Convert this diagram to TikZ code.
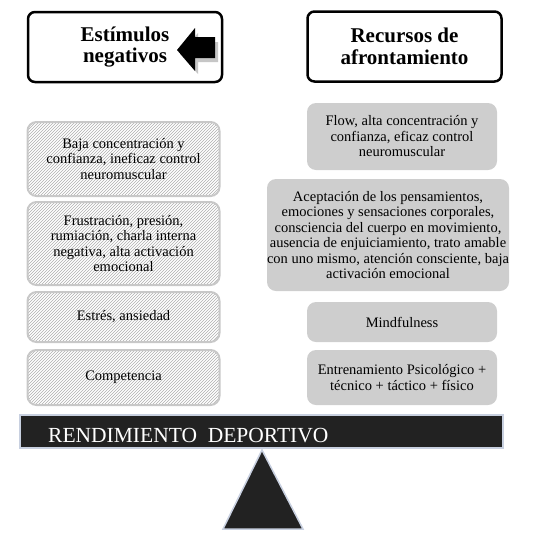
\documentclass[tikz,border=0pt]{standalone}
\usepackage{fontspec}
\setmainfont{Liberation Serif}
\usetikzlibrary{patterns,positioning}

\definecolor{boxgray}{RGB}{206,206,206}
\definecolor{hatchgray}{RGB}{175,175,175}
\definecolor{rimgray}{RGB}{200,200,200}
\definecolor{beamrim}{RGB}{200,208,224}
\definecolor{beamfill}{RGB}{34,34,34}
\newcommand{\bodyfont}{\fontsize{14.5}{15.5}\selectfont}

\tikzset{
  headbox/.style={draw, line width=2.5pt, rounded corners=7pt, fill=white,
    minimum width=194, minimum height=70, align=center,
    font=\fontsize{21}{21.5}\selectfont\bfseries},
  negbox/.style={draw=rimgray, line width=2pt, rounded corners=9pt,
    pattern=north east lines, pattern color=hatchgray,
    minimum width=192, align=center, font=\bodyfont},
  recbox/.style={fill=boxgray, rounded corners=9pt, align=center, font=\bodyfont},
}

\begin{document}
\begin{tikzpicture}[x=1pt,y=-1pt]
  \useasboundingbox (0,0) rectangle (545,536);

  % headers
  \node[headbox] (estimulos) at (125,47) {Estímulos\\negativos};
  \node[headbox] (recursos) at (404.5,46.5) {Recursos de\\afrontamiento};
  \fill[gray!45] (180,54) -- (198,33) -- (198,42) -- (218,42) -- (218,62) -- (198,62) -- (198,74) -- cycle;
  \fill[black] (177,50) -- (195,28) -- (195,37) -- (215,37) -- (215,58) -- (195,58) -- (195,71) -- cycle;

  % left column
  \node[negbox, minimum height=74] (baja) at (123.5,159) {Baja concentración y\\confianza, ineficaz control\\neuromuscular};
  \node[negbox, minimum height=83] (frustra) at (123.5,243.5) {Frustración, presión,\\rumiación, charla interna\\negativa, alta activación\\emocional};
  \node[negbox, minimum height=50] (estres) at (123.5,317) {Estrés, ansiedad};
  \node[negbox, minimum height=55] (compet) at (123.5,377.5) {Competencia};

  % right column
  \node[recbox, minimum width=190, minimum height=67] (flow) at (402,136.5) {Flow, alta concentración y\\confianza, eficaz control\\neuromuscular};
  \node[recbox, inner xsep=0pt, minimum width=240, minimum height=112] (acepta) at (388,235) {Aceptación de los pensamientos,\\emociones y sensaciones corporales,\\consciencia del cuerpo en movimiento,\\ausencia de enjuiciamiento, trato amable\\con uno mismo, atención consciente, baja\\activación emocional};
  \node[recbox, minimum width=190, minimum height=40] (mindful) at (402,322) {Mindfulness};
  \node[recbox, minimum width=190, minimum height=55] (entrena) at (402,377.5) {Entrenamiento Psicológico +\\técnico + táctico + físico};

  % balance
  \node[draw=beamrim, line width=1.5pt, fill=beamfill, minimum width=483, minimum height=33] (beam) at (261.5,431.5) {};
  \node[anchor=west, inner sep=0, text=white, font=\fontsize{21.5}{21.5}\selectfont] (rendim) at (48,435.5) {RENDIMIENTO\ \ DEPORTIVO};
  \draw[draw=beamrim, line width=1.5pt, fill=beamfill] (262,450) -- (303,529) -- (223,529) -- cycle;
\end{tikzpicture}
\end{document}
